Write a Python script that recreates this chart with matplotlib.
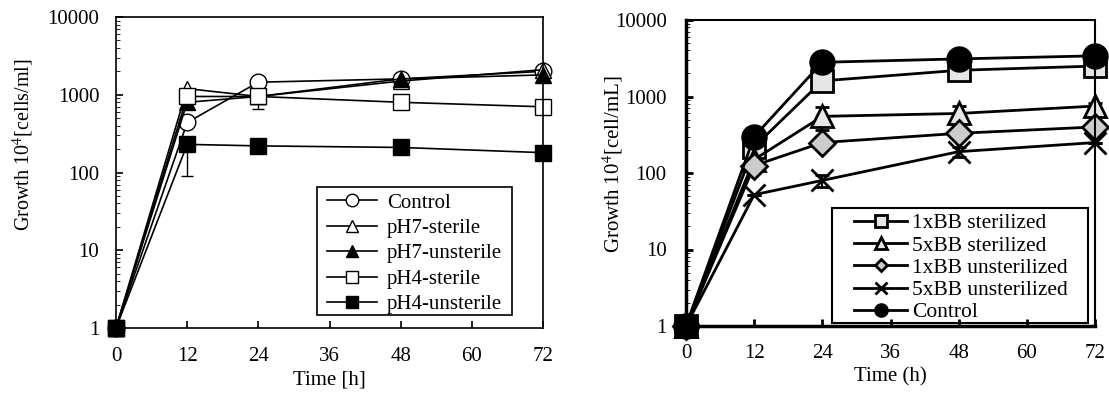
import matplotlib.pyplot as plt
from matplotlib.patches import Rectangle
from matplotlib.ticker import FixedLocator, FixedFormatter, NullFormatter

plt.rcParams['font.family'] = ['Liberation Serif', 'DejaVu Serif']
plt.rcParams['mathtext.fontset'] = 'stix'
plt.rcParams['font.size'] = 15

# left panel: pH experiment
time_l = [0, 12, 24, 48, 72]
control_l = [1, 440, 1450, 1600, 2000]
ph7_sterile = [1, 1200, 950, 1500, 2100]
ph7_unsterile = [1, 800, 950, 1600, 1800]
ph4_sterile = [1, 950, 950, 800, 700]
ph4_unsterile = [1, 230, 220, 210, 180]
ph4_sterile_err = [0, 0, 300, 0, 0]
ph4_unsterile_err = [0, 140, 0, 0, 0]

# right panel: BB experiment
time_r = [0, 12, 24, 48, 72]
bb1_ster = [1, 220, 1600, 2200, 2500]
bb5_ster = [1, 150, 550, 600, 750]
bb1_unster = [1, 125, 250, 330, 400]
bb5_unster = [1, 52, 80, 190, 250]
control_r = [1, 300, 2800, 3100, 3400]
bb5_ster_err = [0, 40, 180, 150, 80]
bb5_unster_err = [0, 0, 15, 30, 0]
bb1_ster_err = [0, 0, 0, 500, 0]

ytick_vals = [1, 10, 100, 1000, 10000]
ytick_text = ['1', '10', '100', '1000', '10000']

fig = plt.figure(figsize=(11.09, 4), dpi=100)
ax1 = fig.add_axes([116/1109, 1-328/400, 427/1109, 311/400])
ax2 = fig.add_axes([686/1109, 1-326/400, 409/1109, 306/400])


def style(ax):
    ax.set_yscale('log')
    ax.set_xlim(0, 72)
    ax.set_ylim(1, 10000)
    ax.set_xticks(range(0, 73, 12))
    ax.yaxis.set_major_locator(FixedLocator(ytick_vals))
    ax.yaxis.set_major_formatter(FixedFormatter(ytick_text))
    ax.yaxis.set_minor_formatter(NullFormatter())
    ax.tick_params(direction='in', which='both', top=False, right=False)
    ax.tick_params(which='major', length=5, width=1.2)
    ax.tick_params(which='minor', length=3)


kw = dict(color='black', lw=1.2, ms=12, mec='black', clip_on=False, capsize=4, elinewidth=1)
ax1.errorbar(time_l, control_l, marker='o', mfc='white', label='Control', **kw)
ax1.errorbar(time_l, ph7_sterile, marker='^', mfc='white', label='pH7-sterile', **kw)
ax1.errorbar(time_l, ph7_unsterile, marker='^', mfc='black', label='pH7-unsterile', **kw)
ax1.errorbar(time_l, ph4_sterile, yerr=[ph4_sterile_err, [0]*5], marker='s', mfc='white',
             label='pH4-sterile', **kw)
ax1.errorbar(time_l, ph4_unsterile, yerr=[ph4_unsterile_err, [0]*5], marker='s', mfc='black',
             label='pH4-unsterile', **kw)
style(ax1)
ax1.tick_params(axis='x', pad=14)
ax1.tick_params(axis='y', pad=12)
for s in ax1.spines.values():
    s.set_linewidth(1.2)
ax1.set_xlabel('Time [h]', labelpad=3)
ax1.set_ylabel('Growth 10$^4$[cells/ml]', fontsize=14.5)
ax1.yaxis.set_label_coords(-0.188, 0.59)
h, l = ax1.get_legend_handles_labels()
h = [x[0] for x in h]
ax1.legend(h, l, loc='upper left', bbox_to_anchor=(0.494, 0.434), frameon=False,
           borderpad=0, borderaxespad=0, handlelength=2.4, handletextpad=0.48,
           labelspacing=0.28, fontsize=15, markerscale=0.75)
ax1.add_patch(Rectangle((0.471, 0.042), 0.457, 0.412, transform=ax1.transAxes,
                        fill=False, ec='black', lw=1.2, zorder=5))

kw2 = dict(color='black', lw=2, ms=16, mec='black', mew=2, clip_on=False, capsize=5, elinewidth=1.5)
ax2.errorbar(time_r, bb1_ster, yerr=[bb1_ster_err, [0]*5], marker='s', mfc='#e6e6e6',
             label='1xBB sterilized', **kw2)
ax2.errorbar(time_r, bb5_ster, yerr=bb5_ster_err, marker='^', mfc='#e6e6e6',
             label='5xBB sterilized', **kw2)
ax2.errorbar(time_r, bb1_unster, marker='D', mfc='#cccccc', label='1xBB unsterilized',
             **dict(kw2, ms=13))
ax2.errorbar(time_r, bb5_unster, yerr=bb5_unster_err, marker='x', mfc='none',
             label='5xBB unsterilized', **kw2)
ax2.errorbar(time_r, control_r, marker='o', mfc='black', label='Control', **dict(kw2, ms=17))
style(ax2)
ax2.tick_params(which='major', width=2)
ax2.tick_params(axis='x', pad=13)
ax2.tick_params(axis='y', pad=14)
for s in ax2.spines.values():
    s.set_linewidth(1.5)
ax2.spines['left'].set_linewidth(2.5)
ax2.spines['bottom'].set_linewidth(2.5)
ax2.set_xlabel('Time (h)', labelpad=3)
ax2.set_ylabel('Growth 10$^4$[cell/mL]', fontsize=15)
ax2.yaxis.set_label_coords(-0.149, 0.53)
h, l = ax2.get_legend_handles_labels()
h = [x[0] for x in h]
ax2.legend(h, l, loc='upper left', bbox_to_anchor=(0.411, 0.368), frameon=False,
           borderpad=0, borderaxespad=0, handlelength=2.46, handletextpad=0.23,
           labelspacing=0.1, fontsize=15.5, markerscale=0.5)
ax2.add_patch(Rectangle((0.357, 0.0098), 0.626, 0.376, transform=ax2.transAxes,
                        fill=False, ec='black', lw=1.5, zorder=5))

fig.savefig('out.png', dpi=100)
